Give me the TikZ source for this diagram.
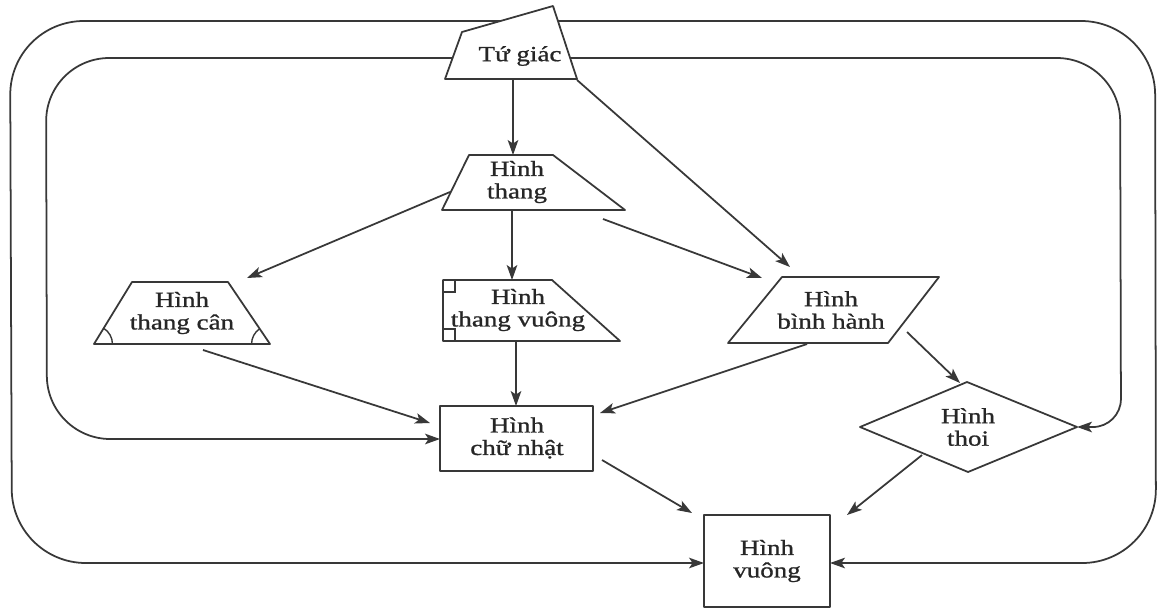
\documentclass[tikz,border=0pt]{standalone}
\usepackage{fontspec}
\setmainfont[FakeStretch=1.25,FakeBold=0.9]{Liberation Serif}
\usetikzlibrary{arrows.meta}
\definecolor{ink}{gray}{0.22}
\tikzset{
  shp/.style={draw=ink, line width=1pt, fill=white, line join=round},
  arr/.style={draw=ink, line width=1pt, -{Stealth[length=8.5pt,width=6pt,inset=2pt]}},
  lbl/.style={align=center, inner sep=0pt, text=black!85, font=\fontsize{12.3}{12.8}\selectfont},
  anglemark/.style={draw=ink, line width=0.8pt}
}
\begin{document}
\begin{tikzpicture}[x=0.02cm,y=-0.02cm]
\fill[white] (0,0) rectangle (1158,609);
\useasboundingbox (0,0) rectangle (1158,609);

% ---- coordinates
\coordinate (tgtop) at (520,21);
\coordinate (tgin) at (520,58);
\coordinate (vuW) at (704,563);
\coordinate (vuE) at (830,563);
\coordinate (cnW) at (440,439);
\coordinate (thE) at (1077,427);

% ---- loops (drawn first, shapes cover them)
\draw[arr, rounded corners=42pt] (tgtop) -- (10,21) -- (12,563) -- (vuW);
\draw[arr, rounded corners=42pt] (tgtop) -- (1155,21) -- (1156,563) -- (vuE);
\draw[arr, rounded corners=36pt] (tgin) -- (46,58) -- (47,439) -- (cnW);
\draw[arr, rounded corners=36pt] (tgin) -- (1120,58) [rounded corners=16pt] -- (1121,427) -- (thE);

% ---- shapes
% Tu giac
\draw[shp] (445,79) -- (462,32) -- (553,6) -- (577,79) -- cycle;
\node[lbl] (tg) at (520,56) {Tứ giác};
% Hinh thang
\draw[shp] (469,155) -- (553,155) -- (625,210) -- (442,210) -- cycle;
\node[lbl] (ht) at (517,182) {Hình\\thang};
% Hinh thang can
\coordinate (tcBL) at (94,344);
\coordinate (tcBR) at (270,344);
\draw[shp] (132,282) -- (228,282) -- (tcBR) -- (tcBL) -- cycle;
\draw[anglemark] ([xshift=10.5pt]tcBL) arc[start angle=0, end angle=58.5, radius=10.5pt];
\draw[anglemark] ([xshift=-10.5pt]tcBR) arc[start angle=180, end angle=124.1, radius=10.5pt];
\node[lbl] (tc) at (182,313) {Hình\\thang cân};
% Hinh thang vuong
\draw[shp] (443,280) -- (552,280) -- (620,341) -- (443,341) -- cycle;
\draw[anglemark] (443,292) -| (455,280);
\draw[anglemark] (443,329) -| (455,341);
\node[lbl] (tv) at (518,310) {Hình\\thang vuông};
% Hinh binh hanh
\draw[shp] (782,277) -- (939,277) -- (888,343) -- (728,343) -- cycle;
\node[lbl] (bh) at (831,310) {Hình\\bình hành};
% Hinh chu nhat
\draw[shp] (440,406) rectangle (593,471);
\node[lbl] (cn) at (517,438) {Hình\\chữ nhật};
% Hinh thoi
\draw[shp] (860,427) -- (967,382) -- (1077,427) -- (968,472) -- cycle;
\node[lbl] (th) at (968,427) {Hình\\thoi};
% Hinh vuong
\draw[shp] (704,515) rectangle (830,607);
\node[lbl] (vu) at (767,561) {Hình\\vuông};

% ---- connector end points
\coordinate (tgS) at (513,79);
\coordinate (tgSE) at (577,80);
\coordinate (htN) at (513,155);
\coordinate (htW) at (450,192);
\coordinate (htS) at (512,210);
\coordinate (htSE) at (603,219);
\coordinate (tcN) at (247,278);
\coordinate (tcS) at (203,350);
\coordinate (tvN) at (512,280);
\coordinate (tvS) at (516,341);
\coordinate (bhNW) at (790,267);
\coordinate (bhW) at (762,278);
\coordinate (bhS) at (807,344);
\coordinate (bhSE) at (907,332);
\coordinate (cnNW) at (430,423);
\coordinate (cnN) at (516,406);
\coordinate (cnE) at (600,413);
\coordinate (cnSE) at (602,460);
\coordinate (thN) at (960,383);
\coordinate (thSW) at (922,455);
\coordinate (vuNW) at (692,513);
\coordinate (vuNE) at (847,515);

% ---- connectors
\draw[arr] (tgS) -- (htN);
\draw[arr] (tgSE) -- (bhNW);
\draw[arr] (htW) -- (tcN);
\draw[arr] (htS) -- (tvN);
\draw[arr] (htSE) -- (bhW);
\draw[arr] (tcS) -- (cnNW);
\draw[arr] (tvS) -- (cnN);
\draw[arr] (bhS) -- (cnE);
\draw[arr] (bhSE) -- (thN);
\draw[arr] (cnSE) -- (vuNW);
\draw[arr] (thSW) -- (vuNE);
\end{tikzpicture}
\end{document}
